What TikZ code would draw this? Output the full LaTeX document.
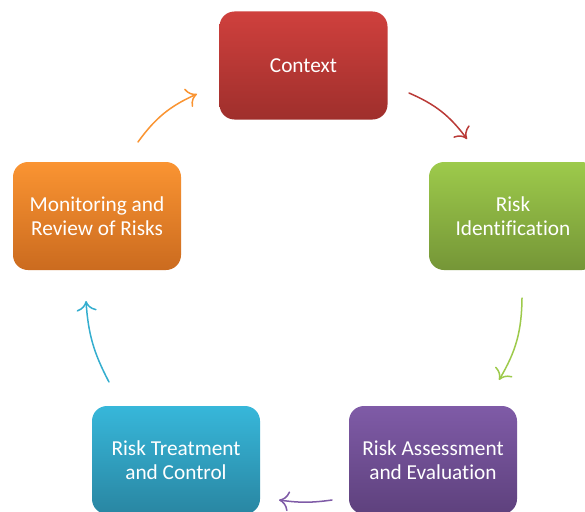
\documentclass[tikz,border=0pt]{standalone}
\usepackage{fontspec}
\setmainfont[Ligatures=NoCommon]{Carlito}
\usetikzlibrary{arrows.meta}
\definecolor{redT}{HTML}{CF403D}\definecolor{redB}{HTML}{9F2F2C}
\definecolor{grnT}{HTML}{9DCA4B}\definecolor{grnB}{HTML}{759637}
\definecolor{purT}{HTML}{7F5BA7}\definecolor{purB}{HTML}{5E417D}
\definecolor{bluT}{HTML}{37B7DA}\definecolor{bluB}{HTML}{2986A2}
\definecolor{orgT}{HTML}{FA9432}\definecolor{orgB}{HTML}{CB6B1F}
\tikzset{
  stepbox/.style n args={2}{rounded corners=15pt, minimum width=168pt, minimum height=108pt,
    top color=#1, bottom color=#2, draw=none, text=white, align=center,
    font=\fontsize{21.3pt}{23.5pt}\selectfont, inner sep=0pt},
  cyc/.style={line width=1.5pt, -{To[length=10pt,width=20pt]}, line cap=round}
}
\begin{document}
\begin{tikzpicture}[x=1pt,y=-1pt]
\useasboundingbox (0,0) rectangle (585,511);
\clip (0,0) rectangle (585,511);
\fill[white] (0,0) rectangle (585,511);
\node[stepbox={redT}{redB}] (ctx) at (303.5,65.5) {Context};
\node[stepbox={grnT}{grnB}] (idf) at (513,216) {Risk\\Identification};
\node[stepbox={purT}{purB}] (ass) at (433,460) {Risk Assessment\\and Evaluation};
\node[stepbox={bluT}{bluB}] (trt) at (176,460) {Risk Treatment\\and Control};
\node[stepbox={orgT}{orgB}] (mon) at (97,216) {Monitoring and\\Review of Risks};
\coordinate (a1) at (409,93);  \coordinate (b1) at (467,139);
\coordinate (a2) at (522,298); \coordinate (b2) at (499,380);
\coordinate (a3) at (332,500); \coordinate (b3) at (279,500);
\coordinate (a4) at (109,382); \coordinate (b4) at (86,301);
\coordinate (a5) at (138,142); \coordinate (b5) at (197,94);
\draw[cyc, color=redT!90!black] (a1) to[bend left=15] (b1);
\draw[cyc, color=grnT] (a2) to[bend left=15] (b2);
\draw[cyc, color=purT] (a3) to[bend left=8] (b3);
\draw[cyc, color=bluT!95!black] (a4) to[bend left=12] (b4);
\draw[cyc, color=orgT] (a5) to[bend left=15] (b5);
\end{tikzpicture}
\end{document}
